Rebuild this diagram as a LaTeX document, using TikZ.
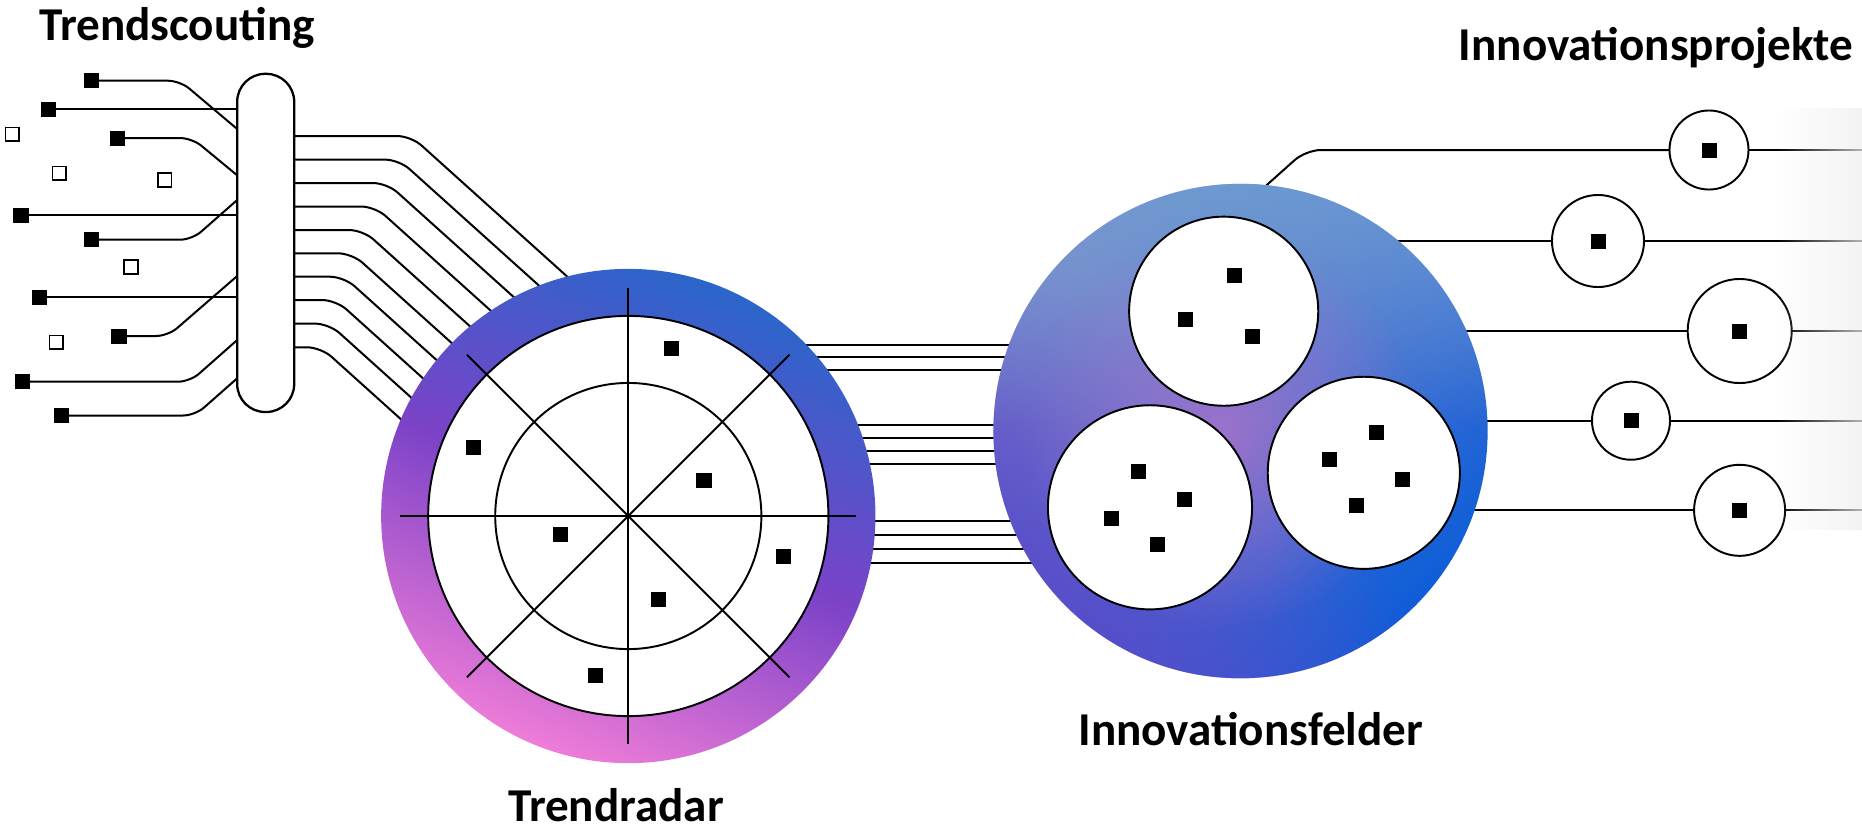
\documentclass[tikz,border=0pt]{standalone}
\usepackage{fontspec}
\setmainfont{Carlito}
\usetikzlibrary{fadings,calc}

\definecolor{rdBlue}{HTML}{2A66CA}
\definecolor{rdMid}{HTML}{7C42C8}
\definecolor{rdPink}{HTML}{EE7CD8}
\definecolor{ifUL}{HTML}{8A84CA}
\definecolor{ifLR}{HTML}{0E5ED8}
\definecolor{ifTop}{HTML}{6A9ED2}
\definecolor{ifGlow}{HTML}{A472CA}
\definecolor{ifViolet}{HTML}{5A48C8}
\definecolor{bandgray}{HTML}{EEEEEE}

\tikzfading[name=glowfade, inner color=transparent!10, outer color=transparent!100]
\tikzfading[name=topfade, top color=transparent!15, bottom color=transparent!100, middle color=transparent!100]
\tikzfading[name=sidefade, left color=transparent!15, right color=transparent!100, middle color=transparent!100]
\tikzfading[name=bandfade, left color=transparent!100, right color=transparent!25]

\tikzset{
  conn/.style={line width=0.57pt, draw=black},
  fsq/.style={fill=black, draw=none, minimum size=0.15cm, inner sep=0, outer sep=0},
  hsq/.style={draw=black, line width=0.45pt, fill=white, minimum size=0.135cm, inner sep=0, outer sep=0},
  wdisk/.style={circle, draw=black, line width=0.55pt, fill=white, inner sep=0, outer sep=0},
  pcirc/.style={circle, draw=black, line width=0.55pt, fill=white, inner sep=0, outer sep=0},
  gridline/.style={line width=0.55pt, draw=black},
  title/.style={font=\fontsize{13.4pt}{16pt}\selectfont\bfseries, anchor=base, inner sep=0},
}

\begin{document}
\begin{tikzpicture}[x=0.01cm, y=-0.01cm]
\useasboundingbox (0,0) rectangle (1862,832);
\coordinate (edge) at (1862,0);
\coordinate (radarC) at (628.3,516);
\coordinate (felderC) at (1240.5,431);

% ---------- Trendscouting sources ----------
\node[fsq] (s1) at (91.7,80.7) {};
\node[fsq] (s2) at (48.7,109.3) {};
\node[fsq] (s3) at (117.7,138) {};
\node[fsq] (s4) at (21,215) {};
\node[fsq] (s5) at (91.7,239.7) {};
\node[fsq] (s6) at (39.3,297) {};
\node[fsq] (s7) at (119,336) {};
\node[fsq] (s8) at (22.7,381.7) {};
\node[fsq] (s9) at (61.7,415.5) {};

\node[hsq] (h1) at (12.3,134.3) {};
\node[hsq] (h2) at (59.3,173.3) {};
\node[hsq] (h3) at (164.7,180) {};
\node[hsq] (h4) at (131,267) {};
\node[hsq] (h5) at (56.3,342.3) {};

\node[draw=black, line width=0.65pt, fill=white, rounded corners=0.28cm,
      minimum width=0.57cm, minimum height=3.38cm, inner sep=0, outer sep=0]
      (pill) at (265.7,242.9) {};

% sources -> pill
\draw[conn, rounded corners=0.12cm] (s1.east) -- (180,80.7) -- (pill.west |- 0,129);
\draw[conn] (s2.east) -- (pill.west |- s2);
\draw[conn, rounded corners=0.12cm] (s3.east) -- (192,138) -- (pill.west |- 0,175.3);
\draw[conn] (s4.east) -- (pill.west |- s4);
\draw[conn, rounded corners=0.12cm] (s5.east) -- (192,239.7) -- (pill.west |- 0,200);
\draw[conn] (s6.east) -- (pill.west |- s6);
\draw[conn, rounded corners=0.12cm] (s7.east) -- (168,336) -- (pill.west |- 0,276);
\draw[conn, rounded corners=0.12cm] (s8.east) -- (190,381.7) -- (pill.west |- 0,340);
\draw[conn, rounded corners=0.12cm] (s9.east) -- (195,415.5) -- (pill.west |- 0,378.3);

% pill -> radar
\foreach \yy/\cx in {136/411, 159.6/399, 183/387, 206.5/375, 230/363,
                     253.3/352, 276.7/344, 300/336, 323.6/329, 347.3/321}
  \draw[conn, rounded corners=0.14cm] (pill.east |- 0,\yy) -- (\cx,\yy) -- ++(200,180);

% radar -> innovation fields
\foreach \yy in {344.7,357.3,370,425.3,438,451.3,464.3,521.3,534.7,549,563}
  \draw[conn] (radarC |- 0,\yy) -- (felderC |- 0,\yy);

% ---------- Innovation projects ----------
\node[pcirc, minimum size=0.79cm] (P1) at (1709,150) {};
\node[pcirc, minimum size=0.92cm] (P2) at (1598,241) {};
\node[pcirc, minimum size=1.04cm] (P3) at (1739.7,331) {};
\node[pcirc, minimum size=0.78cm] (P4) at (1631,420.7) {};
\node[pcirc, minimum size=0.91cm] (P5) at (1739.6,510.3) {};
\foreach \p in {P1,P2,P3,P4,P5} \node[fsq] (\p sq) at (\p) {};

\draw[conn, rounded corners=0.15cm] ($(felderC)+(25.8,-245.6)$) -- (1306,150) -- (P1.west);
\draw[conn] (P1.east) -- (edge |- P1);
\foreach \p in {P2,P3,P4,P5} {
  \draw[conn] (felderC |- \p) -- (\p.west);
  \draw[conn] (\p.east) -- (edge |- \p);
}

% ---------- Trendradar ----------
\node[circle, inner sep=0, outer sep=0, minimum size=4.94cm,
      top color=rdBlue, bottom color=rdPink, middle color=rdMid, shading angle=-22.5]
      (radar) at (radarC) {};
\node[wdisk, minimum size=4cm] (rdisk) at (radarC) {};
\node[circle, draw=black, line width=0.55pt, minimum size=2.66cm, inner sep=0] (rinner) at (radarC) {};
\foreach \a in {0,45,90,135}
  \draw[gridline] ($(radarC)+(\a:2.28cm)$) -- ($(radarC)+(\a+180:2.28cm)$);
\node[fsq] (r1) at (671.7,348.3) {};
\node[fsq] (r2) at (473.3,447.7) {};
\node[fsq] (r3) at (704,480.7) {};
\node[fsq] (r4) at (560.7,534) {};
\node[fsq] (r5) at (783.3,556) {};
\node[fsq] (r6) at (658.3,599) {};
\node[fsq] (r7) at (595.7,675.7) {};

% ---------- Innovationsfelder ----------
\node[circle, inner sep=0, outer sep=0, minimum size=4.94cm,
      top color=ifUL, bottom color=ifLR, shading angle=45]
      (felder) at (felderC) {};
\fill[ifViolet, path fading=sidefade, fading angle=45] (felderC) circle[radius=2.47cm];
\fill[ifTop, path fading=topfade] (felderC) circle[radius=2.47cm];
\fill[ifGlow, path fading=glowfade] ($(felderC)+(-20,0)$) circle[radius=2.0cm];

\node[wdisk, minimum size=1.89cm] (fA) at (1223.7,311.2) {};
\node[wdisk, minimum size=2.04cm] (fB) at (1150,507.3) {};
\node[wdisk, minimum size=1.92cm] (fC) at (1363.8,472.8) {};

\node[fsq] (a1) at (1234.3,275) {};
\node[fsq] (a2) at (1185,319) {};
\node[fsq] (a3) at (1252.3,336) {};
\node[fsq] (b1) at (1138,471.3) {};
\node[fsq] (b2) at (1184.7,499) {};
\node[fsq] (b3) at (1111.7,518.3) {};
\node[fsq] (b4) at (1157.3,544) {};
\node[fsq] (c1) at (1376,432.3) {};
\node[fsq] (c2) at (1329.3,459.7) {};
\node[fsq] (c3) at (1402.3,479) {};
\node[fsq] (c4) at (1356.7,505.7) {};

% fading band at the right
\fill[bandgray, path fading=bandfade] (1777,108) rectangle (1862,530);

% ---------- titles ----------
\node[title] (tScout) at (177,40) {Trendscouting};
\node[title] (tProj) at (1656,60) {Innovationsprojekte};
\node[title] (tFeld) at (1250.8,745) {Innovationsfelder};
\node[title] (tRadar) at (616,821) {Trendradar};
\end{tikzpicture}
\end{document}
